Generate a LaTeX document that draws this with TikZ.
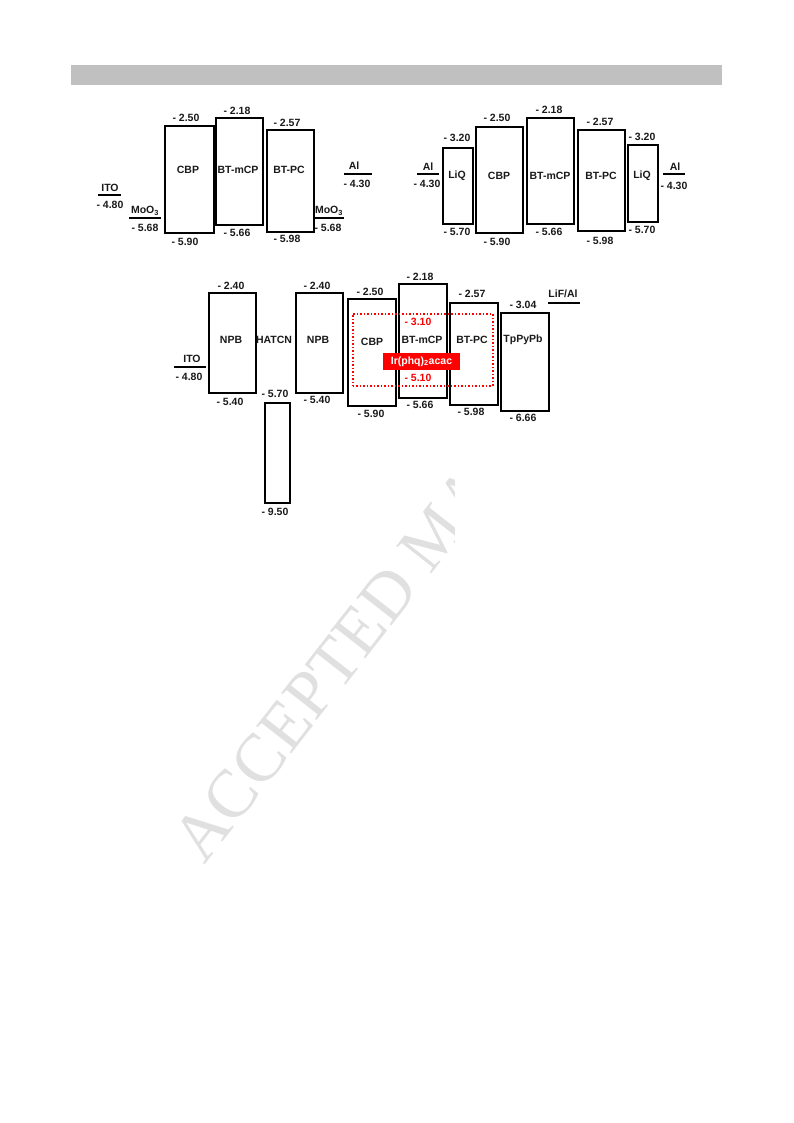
\documentclass[tikz,border=0pt]{standalone}
\usepackage{fontspec}
\setmainfont{Liberation Sans}
\newfontfamily\wmfont{Liberation Serif}
\definecolor{barg}{HTML}{C0C0C0}
\definecolor{txtc}{HTML}{1A1A1A}
\definecolor{irred}{HTML}{FF0000}
\begin{document}
\begin{tikzpicture}[x=1pt,y=-1pt,
  txt/.style={font=\fontsize{10.5}{12}\selectfont\bfseries, text=txtc, inner sep=0pt},
  rtxt/.style={txt, text=irred},
  boxs/.style={draw=black, line width=1.8pt, inner sep=0pt},
  elec/.style={draw=black, line width=2.8pt},
  wm/.style={font=\fontsize{68}{68}\selectfont\wmfont, text=black!12, inner sep=0pt}]
\useasboundingbox[fill=white] (0,0) rectangle (793,1123);
% watermark
\begin{scope}
\clip (0,470) rectangle (454,1123);
\node[wm, rotate=52, anchor=base west] (wmark) at (204,866) {ACCEPTED MA};
\end{scope}
% header bar
\fill[barg] (71,65) rectangle (722,85);
\newcommand\ebox[5]{\node[boxs, minimum width={#4-#2}, minimum height={#5-#3}, anchor=north west] (#1) at (#2,#3) {};}
% ================= top left =================
\coordinate (itoA1) at (98,195); \coordinate (itoA2) at (121,195);
\draw[elec] (itoA1) -- (itoA2);
\node[txt] (itoAl) at (110,188) {ITO};
\node[txt] (itoAv) at (110,205) {- 4.80};
\coordinate (moA1) at (129,218); \coordinate (moA2) at (161,218);
\draw[elec] (moA1) -- (moA2);
\node[txt, anchor=base] (moAl) at (145,214) {MoO\textsubscript{3}};
\node[txt] (moAv) at (145,228) {- 5.68};
\ebox{cbpA}{164}{125}{213}{232}
\node[txt] (cbpAl) at (188,170) {CBP};
\node[txt] (cbpAt) at (186,118) {- 2.50};
\node[txt] (cbpAb) at (185,242) {- 5.90};
\ebox{mcpA}{215}{117}{262}{224}
\node[txt] (mcpAl) at (238,170) {BT-mCP};
\node[txt] (mcpAt) at (237,111) {- 2.18};
\node[txt] (mcpAb) at (237,233) {- 5.66};
\ebox{pcA}{266}{129}{313}{231}
\node[txt] (pcAl) at (289,170) {BT-PC};
\node[txt] (pcAt) at (287,123) {- 2.57};
\node[txt] (pcAb) at (287,239) {- 5.98};
\coordinate (moB1) at (313,218); \coordinate (moB2) at (344,218);
\draw[elec] (moB1) -- (moB2);
\node[txt, anchor=base] (moBl) at (329,214) {MoO\textsubscript{3}};
\node[txt] (moBv) at (328,228) {- 5.68};
\coordinate (alA1) at (344,174); \coordinate (alA2) at (372,174);
\draw[elec] (alA1) -- (alA2);
\node[txt] (alAl) at (354,166) {Al};
\node[txt] (alAv) at (357,184) {- 4.30};
% ================= top right =================
\coordinate (alB1) at (417,174); \coordinate (alB2) at (439,174);
\draw[elec] (alB1) -- (alB2);
\node[txt] (alBl) at (428,167) {Al};
\node[txt] (alBv) at (427,184) {- 4.30};
\ebox{liqA}{442}{147}{472}{223}
\node[txt] (liqAl) at (457,176) {LiQ};
\node[txt] (liqAt) at (457,138) {- 3.20};
\node[txt] (liqAb) at (457,232) {- 5.70};
\ebox{cbpB}{475}{126}{522}{232}
\node[txt] (cbpBl) at (499,176) {CBP};
\node[txt] (cbpBt) at (497,118) {- 2.50};
\node[txt] (cbpBb) at (497,242) {- 5.90};
\ebox{mcpB}{526}{117}{573}{223}
\node[txt] (mcpBl) at (550,176) {BT-mCP};
\node[txt] (mcpBt) at (549,110) {- 2.18};
\node[txt] (mcpBb) at (549,232) {- 5.66};
\ebox{pcB}{577}{129}{624}{230}
\node[txt] (pcBl) at (601,176) {BT-PC};
\node[txt] (pcBt) at (600,122) {- 2.57};
\node[txt] (pcBb) at (600,241) {- 5.98};
\ebox{liqB}{627}{144}{657}{221}
\node[txt] (liqBl) at (642,176) {LiQ};
\node[txt] (liqBt) at (642,137) {- 3.20};
\node[txt] (liqBb) at (642,230) {- 5.70};
\coordinate (alC1) at (663,174); \coordinate (alC2) at (685,174);
\draw[elec] (alC1) -- (alC2);
\node[txt] (alCl) at (675,167) {Al};
\node[txt] (alCv) at (674,186) {- 4.30};
% ================= bottom =================
\coordinate (itoC1) at (174,367); \coordinate (itoC2) at (206,367);
\draw[elec] (itoC1) -- (itoC2);
\node[txt] (itoCl) at (192,359) {ITO};
\node[txt] (itoCv) at (189,377) {- 4.80};
\ebox{npbA}{208}{292}{255}{392}
\node[txt] (npbAl) at (231,340) {NPB};
\node[txt] (npbAt) at (231,286) {- 2.40};
\node[txt] (npbAb) at (230,402) {- 5.40};
\node[txt] (hatl) at (274,340) {HATCN};
\ebox{hat}{264}{402}{289}{502}
\node[txt] (hatt) at (275,394) {- 5.70};
\node[txt] (hatb) at (275,512) {- 9.50};
\ebox{npbB}{295}{292}{342}{392}
\node[txt] (npbBl) at (318,340) {NPB};
\node[txt] (npbBt) at (317,286) {- 2.40};
\node[txt] (npbBb) at (317,400) {- 5.40};
\ebox{cbpC}{347}{298}{395}{405}
\node[txt] (cbpCl) at (372,342) {CBP};
\node[txt] (cbpCt) at (370,292) {- 2.50};
\node[txt] (cbpCb) at (371,414) {- 5.90};
\ebox{mcpC}{398}{283}{446}{397}
\node[txt] (mcpCl) at (422,340) {BT-mCP};
\node[txt] (mcpCt) at (420,277) {- 2.18};
\node[txt] (mcpCb) at (420,405) {- 5.66};
\ebox{pcC}{449}{302}{497}{404}
\node[txt] (pcCl) at (472,340) {BT-PC};
\node[txt] (pcCt) at (472,294) {- 2.57};
\node[txt] (pcCb) at (471,412) {- 5.98};
\ebox{tpp}{500}{312}{548}{410}
\node[txt] (tppl) at (523,340) {TpPyPb};
\node[txt] (tppt) at (523,305) {- 3.04};
\node[txt] (tppb) at (523,418) {- 6.66};
\coordinate (lif1) at (548,303); \coordinate (lif2) at (580,303);
\draw[elec] (lif1) -- (lif2);
\node[txt] (lifl) at (563,294) {LiF/Al};
% dopant
\node[draw=irred, dotted, line width=1.5pt, minimum width=140pt, minimum height=72pt, anchor=north west, inner sep=0pt] (dop) at (352,313) {};
\node[fill=irred, text=white, font=\fontsize{10.5}{12}\selectfont\bfseries, minimum width=77pt, minimum height=17pt, inner sep=0pt] (irl) at (421.5,361.5) {Ir(phq)\textsubscript{2}acac};
\node[rtxt] (irt) at (418,322) {- 3.10};
\node[rtxt] (irb) at (418,378) {- 5.10};
\end{tikzpicture}
\end{document}
